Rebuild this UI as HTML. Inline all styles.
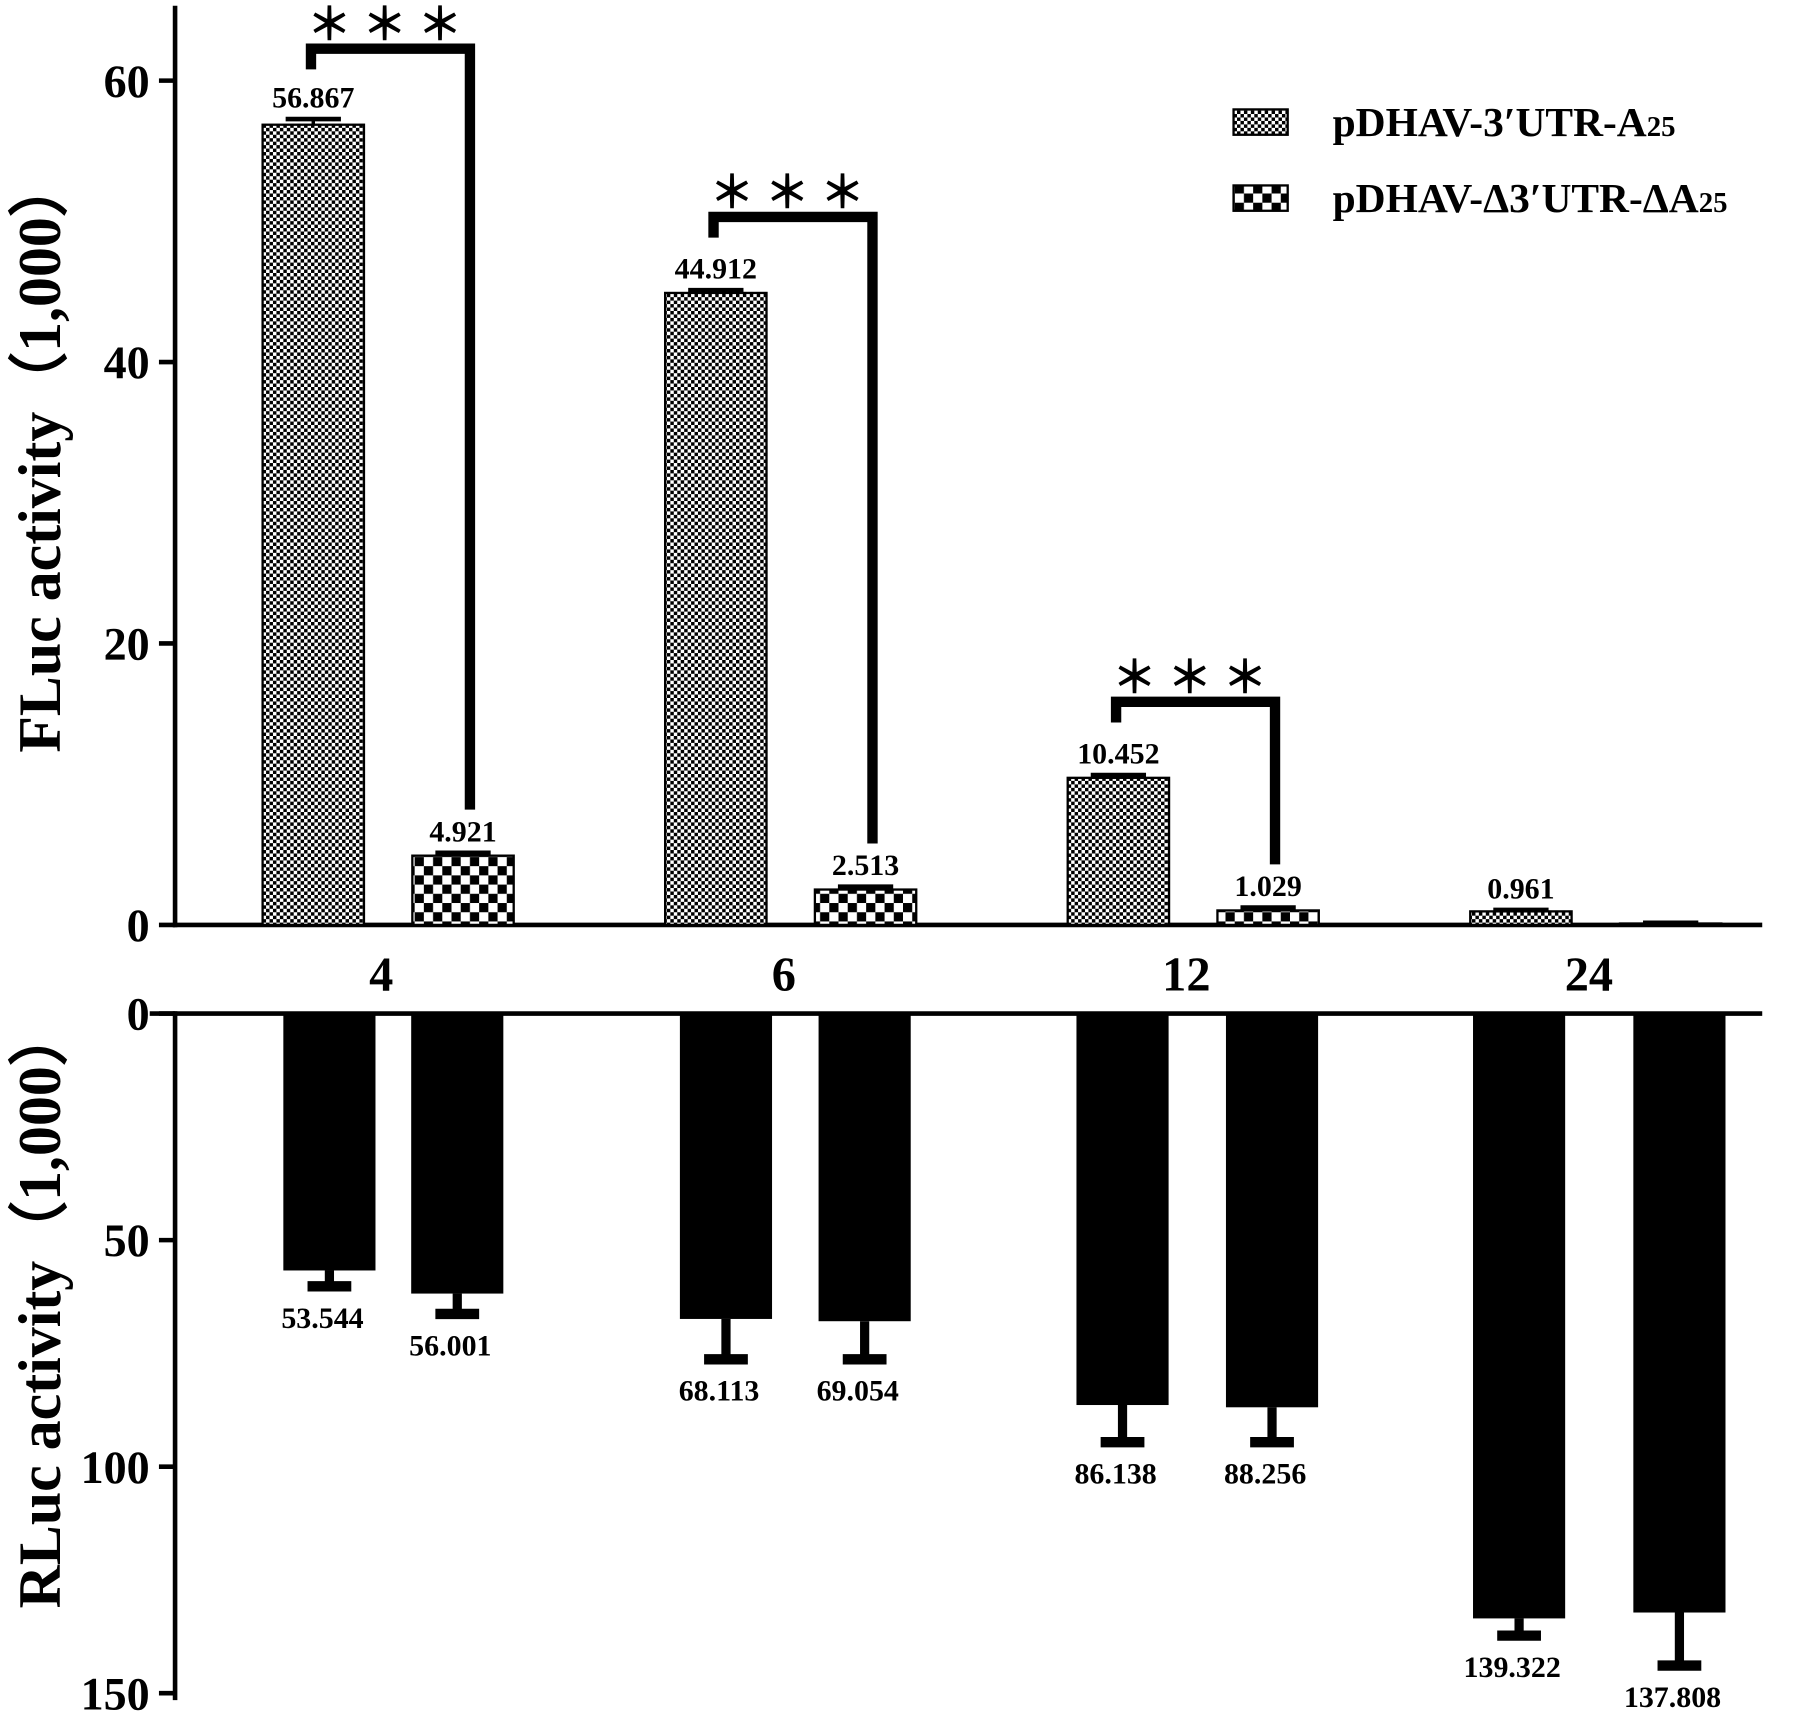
<!DOCTYPE html>
<html><head><meta charset="utf-8"><style>
html,body{margin:0;padding:0;background:#fff;}
svg{display:block;}
text{font-family:"Liberation Serif",serif;font-weight:bold;fill:#000;}
</style></head><body>
<svg id="chart" width="1806" height="1720" viewBox="0 0 1568 1493.3" preserveAspectRatio="none" xmlns="http://www.w3.org/2000/svg">
<defs>
<pattern id="fine" width="6" height="6" patternUnits="userSpaceOnUse"><rect width="6" height="6" fill="#fff"/><rect width="3" height="3" fill="#000"/><rect x="3" y="3" width="3" height="3" fill="#000"/></pattern>
<pattern id="coarse" width="16" height="16" patternUnits="userSpaceOnUse"><rect width="16" height="16" fill="#fff"/><rect width="8" height="8" fill="#000"/><rect x="8" y="8" width="8" height="8" fill="#000"/></pattern>
</defs>
<g id="plot"></g>
</svg>
<script>
const categories = ["4","6","12","24"];
const flucA = [56.867, 44.912, 10.452, 0.961];
const flucB = [4.921, 2.513, 1.029, 0.1];
const flucErrA = [0.4, 0.2, 0.2, 0.1];
const flucErrB = [0.2, 0.2, 0.2, 0.05];
const flucLabelsA = ["56.867","44.912","10.452","0.961"];
const flucLabelsB = ["4.921","2.513","1.029",""];
const rlucA = [56.7, 67.4, 86.4, 133.5];
const rlucB = [61.8, 67.9, 86.9, 132.2];
const rlucErrA = [3.5, 8.9, 8.2, 3.8];
const rlucErrB = [4.5, 8.4, 7.7, 11.7];
const rlucLabelsA = ["53.544","68.113","86.138","139.322"];
const rlucLabelsB = ["56.001","69.054","88.256","137.808"];
const flucTicks = [0,20,40,60];
const rlucTicks = [0,50,100,150];
const sigGroups = [0,1,2];

const NS="http://www.w3.org/2000/svg";
const g=document.getElementById('plot');
function mk(t,a,txt){const e=document.createElementNS(NS,t);for(const k in a)e.setAttribute(k,a[k]);if(txt!==undefined)e.textContent=txt;g.appendChild(e);return e;}
const yTop=v=>803-v*(733/60);
const yBot=v=>880+v*(590/150);
const groupX=i=>272+i*349.5;
const topBarW=88, topGap=130;
const botCenterA=i=>286+i*344.3, botCenterB=i=>397+i*353.7, botW=80;

let e;
e=mk('line',{x1:152,y1:5,x2:152,y2:805,stroke:'#000','stroke-width':4});

e=mk('line',{x1:150,y1:803,x2:1530,y2:803,stroke:'#000','stroke-width':4});

e=mk('line',{x1:152,y1:878,x2:152,y2:1476,stroke:'#000','stroke-width':4});

e=mk('line',{x1:130,y1:880,x2:1530,y2:880,stroke:'#000','stroke-width':4});


flucTicks.forEach(t=>{
  e=mk('line',{x1:138,y1:yTop(t),x2:152,y2:yTop(t),stroke:'#000','stroke-width':4});
  
  e=mk('text',{x:130,y:yTop(t)+14,'text-anchor':'end','font-size':40},String(t));
  
});
rlucTicks.forEach(t=>{
  e=mk('line',{x1:138,y1:yBot(t),x2:152,y2:yBot(t),stroke:'#000','stroke-width':4});
  
  e=mk('text',{x:130,y:yBot(t)+14,'text-anchor':'end','font-size':40},String(t));
  
});
e=mk('text',{x:0,y:0,'text-anchor':'middle','font-size':52,transform:'translate(52,395) rotate(-90)'},'FLuc activity（1,000）');

e=mk('text',{x:0,y:0,'text-anchor':'middle','font-size':52,transform:'translate(52,1135) rotate(-90)'},'RLuc activity（1,000）');


categories.forEach((c,i)=>{
  const cx=groupX(i)+topGap/2-6;
  e=mk('text',{x:cx,y:860,'text-anchor':'middle','font-size':42},c);
  
  [[flucA,flucErrA,flucLabelsA,'url(#fine)',0],[flucB,flucErrB,flucLabelsB,'url(#coarse)',topGap]].forEach(([arr,err,lab,fill,off])=>{
    const x=groupX(i)+off, y=yTop(arr[i]);
    e=mk('rect',{x:x-topBarW/2,y:y,width:topBarW,height:803-y,fill:fill,stroke:'#000','stroke-width':2});
    
    const ye=yTop(arr[i]+err[i]);
    mk('line',{x1:x,y1:y,x2:x,y2:ye,stroke:'#000','stroke-width':3});
    e=mk('line',{x1:x-24,y1:ye,x2:x+24,y2:ye,stroke:'#000','stroke-width':4});
    
    if(lab[i]){e=mk('text',{x:x,y:ye-10,'text-anchor':'middle','font-size':26},lab[i]);
    }
  });
  [[rlucA,rlucErrA,rlucLabelsA,botCenterA],[rlucB,rlucErrB,rlucLabelsB,botCenterB]].forEach(([arr,err,lab,cf])=>{
    const x=cf(i), y=yBot(arr[i]);
    e=mk('rect',{x:x-botW/2,y:880,width:botW,height:y-880,fill:'#000'});
    
    const ye=yBot(arr[i]+err[i]);
    mk('line',{x1:x,y1:y,x2:x,y2:ye,stroke:'#000','stroke-width':8});
    e=mk('line',{x1:x-19,y1:ye,x2:x+19,y2:ye,stroke:'#000','stroke-width':9});
    
    e=mk('text',{x:x-6,y:ye+36,'text-anchor':'middle','font-size':26},lab[i]);
    
  });
});

sigGroups.forEach(i=>{
  const xl=groupX(i)-2, xr=groupX(i)+topGap+6;
  const yb=yTop(flucA[i])-66;
  const yl=yTop(flucA[i])-48, yr=yTop(flucB[i])-40;
  e=mk('path',{d:`M${xl} ${yl} V${yb} H${xr} V${yr}`,fill:'none',stroke:'#000','stroke-width':9});
  
  e=mk('text',{x:(xl+xr)/2,y:yb-8,'text-anchor':'middle','font-size':38,'font-weight':'normal','letter-spacing':10,fill:'#333'},'＊＊＊');
  
});

e=mk('rect',{x:1071,y:95,width:47,height:22,fill:'url(#fine)',stroke:'#000','stroke-width':2});

e=mk('text',{x:1157,y:118,'font-size':36},'pDHAV-3′UTR-A');

e.appendChild(Object.assign(document.createElementNS(NS,'tspan'),{textContent:'25'}));e.lastChild.setAttribute('font-size','25');
e=mk('rect',{x:1071,y:161,width:47,height:22,fill:'url(#coarse)',stroke:'#000','stroke-width':2});

e=mk('text',{x:1157,y:184,'font-size':36},'pDHAV-Δ3′UTR-ΔA');

e.appendChild(Object.assign(document.createElementNS(NS,'tspan'),{textContent:'25'}));e.lastChild.setAttribute('font-size','25');
</script>
</body></html>
